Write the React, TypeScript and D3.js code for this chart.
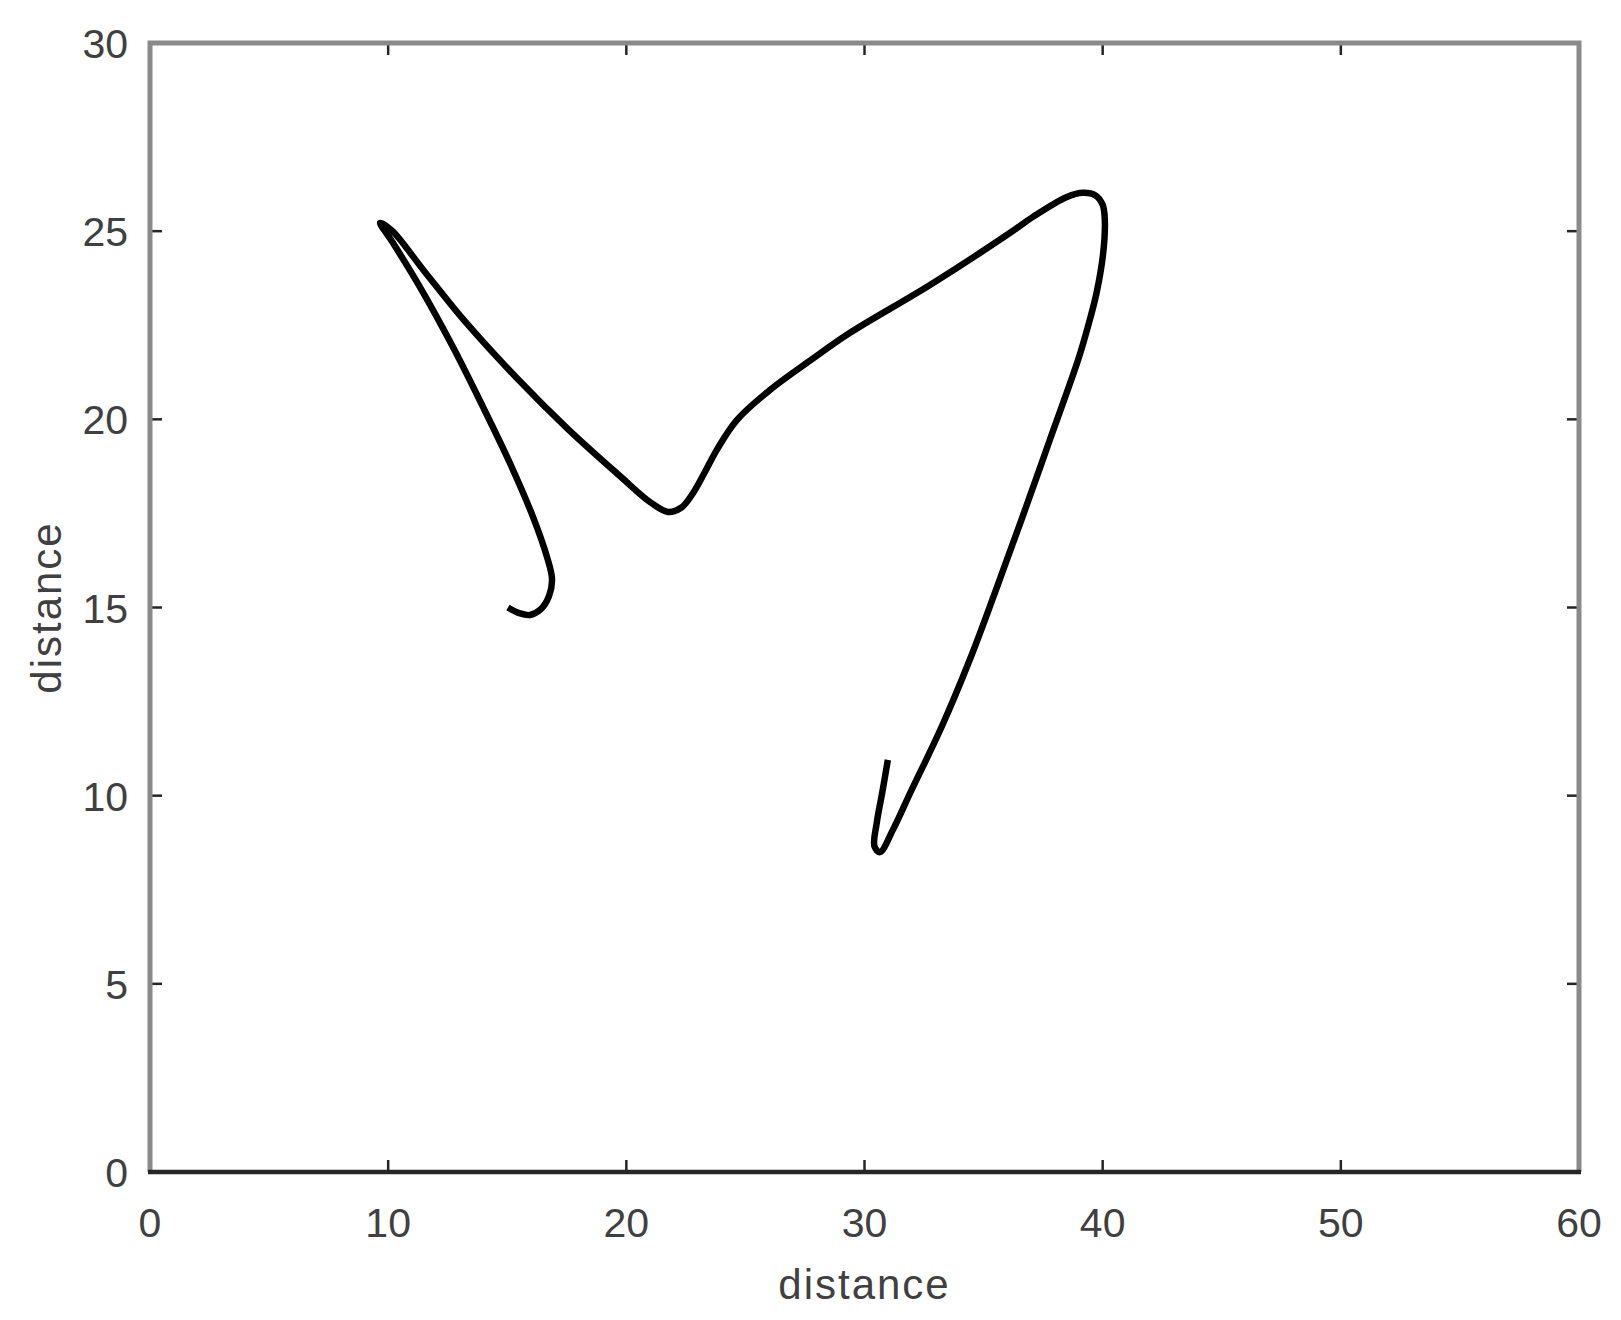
import { useEffect, useRef } from "react";
import * as d3 from "d3";

// trajectory (in axis units)
const pathX = [
  15.03, 15.5, 15.95, 16.4, 16.75, 16.88, 16.67, 16.08, 15.11, 13.98, 12.72, 11.33, 10.2, 9.66,
  10.15, 11.5, 13.2, 15.38, 17.55, 19.72, 21.0, 21.75, 22.3, 22.8, 23.3, 23.8, 24.64,
  26.03, 27.8, 29.39, 32.75, 36.1, 37.07, 38.5, 39.17, 39.7, 40.0, 40.09, 40.02, 39.74,
  39.38, 38.97, 37.78, 36.59, 35.47, 34.42, 33.24, 31.91, 31.2, 30.65, 30.42, 30.52, 30.75, 30.98,
];
const pathY = [
  15.0, 14.85, 14.8, 14.95, 15.3, 15.75, 16.34, 17.41, 18.84, 20.33, 21.92, 23.52, 24.69, 25.22,
  25.02, 23.95, 22.62, 21.11, 19.74, 18.5, 17.8, 17.54, 17.65, 18.04, 18.6, 19.19, 19.98,
  20.78, 21.6, 22.3, 23.57, 24.95, 25.38, 25.91, 26.02, 25.95, 25.7, 25.3, 24.41, 23.35,
  22.46, 21.58, 19.45, 17.33, 15.38, 13.61, 11.83, 10.06, 9.1, 8.5, 8.65, 9.3, 10.1, 10.95,
];
const xTicks = [0, 10, 20, 30, 40, 50, 60];
const yTicks = [0, 5, 10, 15, 20, 25, 30];
const xLabel = "distance";
const yLabel = "distance";

export default function App() {
  const ref = useRef(null);

  useEffect(() => {
    const svg = d3.select(ref.current);
    svg.selectAll("*").remove();

    const left = 150, right = 1579, top = 43, bottom = 1172;
    const x = d3.scaleLinear().domain([0, 60]).range([left, right]);
    const y = d3.scaleLinear().domain([0, 30]).range([bottom, top]);
    const font = "'Liberation Sans', Arial, Helvetica, sans-serif";
    const tickLen = 12;

    // ticks (inside, on all four sides)
    const g = svg.append("g").attr("stroke", "#262626").attr("stroke-width", 2.5);
    xTicks.slice(1, -1).forEach((t) => {
      g.append("line").attr("x1", x(t)).attr("x2", x(t)).attr("y1", bottom).attr("y2", bottom - tickLen);
      g.append("line").attr("x1", x(t)).attr("x2", x(t)).attr("y1", top).attr("y2", top + tickLen);
    });
    yTicks.slice(1, -1).forEach((t) => {
      g.append("line").attr("x1", left).attr("x2", left + tickLen).attr("y1", y(t)).attr("y2", y(t));
      g.append("line").attr("x1", right).attr("x2", right - tickLen).attr("y1", y(t)).attr("y2", y(t));
    });

    // box
    svg.append("path")
      .attr("d", `M${left},${bottom}V${top}H${right}V${bottom}`)
      .attr("fill", "none")
      .attr("stroke", "#8a8a8a")
      .attr("stroke-width", 5);
    svg.append("line")
      .attr("x1", left - 2).attr("x2", right + 2)
      .attr("y1", bottom).attr("y2", bottom)
      .attr("stroke", "#262626")
      .attr("stroke-width", 4.5);

    // tick labels
    svg.selectAll(".xt")
      .data(xTicks)
      .enter()
      .append("text")
      .attr("x", (d) => x(d))
      .attr("y", 1237)
      .attr("text-anchor", "middle")
      .attr("font-family", font)
      .attr("font-size", 41)
      .attr("fill", "#404040")
      .text((d) => d);
    svg.selectAll(".yt")
      .data(yTicks)
      .enter()
      .append("text")
      .attr("x", 128)
      .attr("y", (d) => y(d) + 15)
      .attr("text-anchor", "end")
      .attr("font-family", font)
      .attr("font-size", 41)
      .attr("fill", "#404040")
      .text((d) => d);

    // axis labels
    svg.append("text")
      .attr("x", (left + right) / 2)
      .attr("y", 1299)
      .attr("text-anchor", "middle")
      .attr("font-family", font)
      .attr("font-size", 42)
      .attr("letter-spacing", 2)
      .attr("fill", "#404040")
      .text(xLabel);
    svg.append("text")
      .attr("transform", `translate(61,${(top + bottom) / 2}) rotate(-90)`)
      .attr("text-anchor", "middle")
      .attr("font-family", font)
      .attr("font-size", 42)
      .attr("letter-spacing", 2)
      .attr("fill", "#404040")
      .text(yLabel);

    // trajectory
    const pts = pathX.map((v, i) => [v, pathY[i]]);
    const line = d3.line()
      .x((d) => x(d[0]))
      .y((d) => y(d[1]))
      .curve(d3.curveCatmullRom.alpha(0.5));
    svg.append("path")
      .datum(pts)
      .attr("d", line)
      .attr("fill", "none")
      .attr("stroke", "#000")
      .attr("stroke-width", 6.5)
      .attr("stroke-linejoin", "round");
  }, []);

  return (
    <svg
      ref={ref}
      width={1621}
      height={1320}
      style={{ position: "absolute", left: 0, top: 0, background: "#fff" }}
    />
  );
}
